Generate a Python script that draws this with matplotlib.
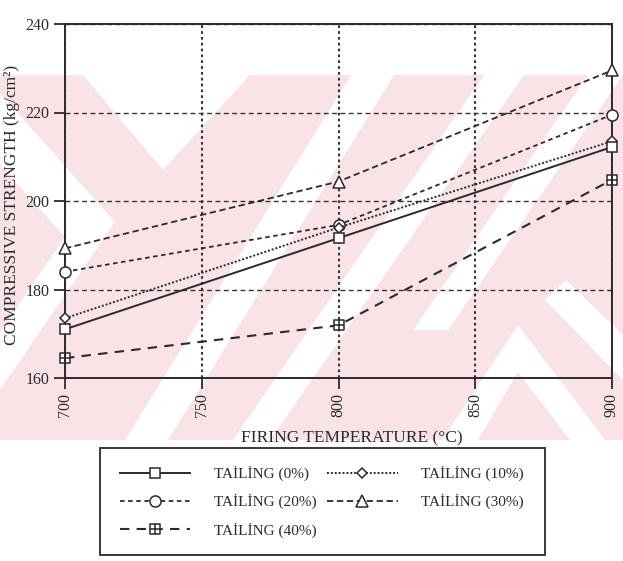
import matplotlib
matplotlib.use("Agg")
import matplotlib.pyplot as plt
from matplotlib.path import Path
from matplotlib.patches import Polygon, Rectangle

# ---- data -------------------------------------------------------------
temperature = [700, 800, 900]
tailing_0 = [171.0, 191.6, 212.2]
tailing_10 = [173.5, 194.0, 213.5]
tailing_20 = [184.0, 194.6, 219.5]
tailing_30 = [189.3, 204.4, 229.5]
tailing_40 = [164.5, 171.9, 204.8]

series_labels = ["TAİLİNG (0%)", "TAİLİNG (10%)", "TAİLİNG (20%)",
                 "TAİLİNG (30%)", "TAİLİNG (40%)"]
x_ticks = [700, 750, 800, 850, 900]
y_ticks = [160, 180, 200, 220, 240]

W, H = 623, 561
SERIF = ["Liberation Serif", "DejaVu Serif"]
plt.rcParams["font.family"] = SERIF
INK = "#2a2a2a"

fig = plt.figure(figsize=(W / 100, H / 100), dpi=100)
fig.patch.set_facecolor("white")


def px(points):
    """pixel coords (origin top-left) -> figure fraction"""
    return [(x / W, 1 - y / H) for x, y in points]


# ---- background watermark ----------------------------------------------
pink = "#fae3e6"
fig.patches.append(Rectangle((0, 1 - 440 / H), 1, (440 - 75) / H,
                             transform=fig.transFigure, facecolor=pink,
                             edgecolor="none", zorder=-20))
white_shapes = [
    # downward wedge at the top left
    [(83, 75), (250, 75), (163, 170)],
    # chevron on the left edge
    [(0, 93), (115, 222), (0, 390), (0, 332), (65, 237), (0, 165)],
    # slanted bands
    [(351, 75), (394, 75), (168, 440), (125, 440)],
    [(484, 75), (524, 75), (270, 440), (233, 440)],
    [(588, 75), (623, 75), (448, 330), (413, 330)],
    # upward chevron at the bottom right
    [(442, 440), (518, 325), (605, 440), (570, 440), (518, 372), (478, 440)],
    # band on the right edge
    [(566, 280), (623, 335), (623, 380), (545, 300)],
]
for shp in white_shapes:
    fig.patches.append(Polygon(px(shp), closed=True, transform=fig.transFigure,
                               facecolor="white", edgecolor="none", zorder=-19))

# ---- axes ----------------------------------------------------------------
left, right, top, bottom = 65, 612, 24, 378
ax = fig.add_axes([left / W, 1 - bottom / H, (right - left) / W, (bottom - top) / H])
ax.set_facecolor("none")
ax.set_xlim(700, 900)
ax.set_ylim(160, 240)
ax.set_xticks(x_ticks)
ax.set_yticks(y_ticks)
ax.set_xticklabels([str(v) for v in x_ticks], rotation=90)
for sp in ax.spines.values():
    sp.set_linewidth(1.4)
    sp.set_color(INK)
ax.tick_params(direction="out", length=8, width=1.3, colors=INK,
               labelsize=11.5, pad=3)

ax.xaxis.grid(True, linestyle=(0, (1.3, 1.5)), linewidth=1.5, color="#333333")
ax.yaxis.grid(True, linestyle=(0, (3.5, 2.5)), linewidth=1.0, color="#333333")
ax.set_axisbelow(True)

crossed_square = Path(
    [(-1, -1), (1, -1), (1, 1), (-1, 1), (-1, -1), (0, -1), (0, 1), (-1, 0), (1, 0)],
    [Path.MOVETO, Path.LINETO, Path.LINETO, Path.LINETO, Path.CLOSEPOLY,
     Path.MOVETO, Path.LINETO, Path.MOVETO, Path.LINETO])

styles = [
    dict(linestyle="-", marker="s", markersize=7.5, linewidth=1.4),
    dict(linestyle=(0, (1, 1)), marker="D", markersize=5.5, linewidth=1.4),
    dict(linestyle=(0, (2.5, 2)), marker="o", markersize=8, linewidth=1.3),
    dict(linestyle=(0, (3.5, 2)), marker="^", markersize=8, linewidth=1.3),
    dict(linestyle=(0, (4.5, 3.5)), marker=crossed_square, markersize=7, linewidth=1.5),
]
values = [tailing_0, tailing_10, tailing_20, tailing_30, tailing_40]
zorders = [6, 5, 4, 3, 2]
handles = []
for vals, st, lab, z in zip(values, styles, series_labels, zorders):
    ln, = ax.plot(temperature, vals, color=INK, markerfacecolor="white",
                  markeredgecolor=INK, markeredgewidth=1.1, label=lab,
                  clip_on=False, zorder=z, **st)
    handles.append(ln)

ax.set_ylabel("COMPRESSIVE STRENGTH (kg/cm²)", fontsize=12.5, color=INK)
ax.yaxis.set_label_coords(-0.082, 0.49)
ax.set_xlabel("FIRING TEMPERATURE (°C)", fontsize=12.5, color=INK)
ax.xaxis.set_label_coords(0.525, -0.147)

# legend: entries placed without a frame, box drawn separately
order = [0, 2, 4, 1, 3]
leg = fig.legend([handles[i] for i in order], [series_labels[i] for i in order],
                 ncol=2, loc="upper left", bbox_to_anchor=(120 / W, 1 - 466 / H),
                 fontsize=11, frameon=False, handlelength=4.6, handletextpad=1.55,
                 columnspacing=0.7, labelspacing=0.86, borderpad=0,
                 borderaxespad=0)
for t in leg.get_texts():
    t.set_color(INK)
fig.patches.append(Rectangle((100 / W, 1 - 555 / H), 445 / W, 107 / H,
                             transform=fig.transFigure, facecolor="white",
                             edgecolor=INK, linewidth=1.3, zorder=-5))

fig.savefig("out.png", dpi=100, facecolor="white")
